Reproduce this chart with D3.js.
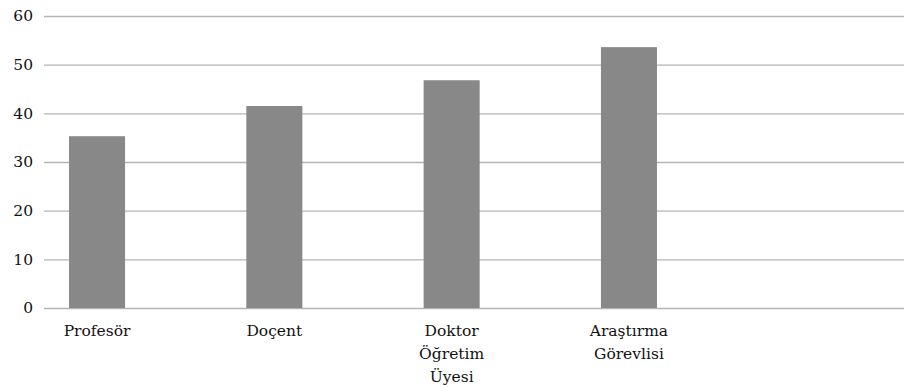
<!DOCTYPE html>
<html lang="tr">
<head>
<meta charset="utf-8">
<script src="https://cdn.jsdelivr.net/npm/d3@7"></script>
<style>
  html, body { margin: 0; padding: 0; background: #ffffff; }
  svg { display: block; }
</style>
</head>
<body>
<svg id="chart" width="905" height="388"></svg>
<script>
// Akademik unvanlara göre değerler
const categories = ["Profesör", "Doçent", "Doktor Öğretim Üyesi", "Araştırma Görevlisi"];
const values = [35.3, 41.5, 46.8, 53.6];
const yTicks = [0, 10, 20, 30, 40, 50, 60];

const FONT = "'DejaVu Serif', serif";
const FONT_SIZE = 15.5;
const plot = { left: 44, right: 904, top: 16, bottom: 308 };

const svg = d3.select("#chart");

const y = d3.scaleLinear().domain([0, 60]).range([plot.bottom, plot.top]);

// Category slots: bars sit centred in equal steps, narrow relative to the step
const x = d3.scaleBand()
  .domain(categories)
  .range([8.4, 717.6])
  .paddingInner(0.684)
  .paddingOuter(0.342);

// Horizontal gridlines (including the zero line) and value labels
const yAxis = d3.axisLeft(y)
  .tickValues(yTicks)
  .tickSize(-(plot.right - plot.left))
  .tickPadding(11)
  .tickFormat(d3.format("d"));

const gy = svg.append("g")
  .attr("transform", `translate(${plot.left},0)`)
  .call(yAxis)
  .attr("font-family", FONT)
  .attr("font-size", FONT_SIZE);
gy.select(".domain").remove();
gy.selectAll(".tick line")
  .attr("stroke", "#b4b4b4")
  .attr("stroke-width", 1.4);
gy.selectAll(".tick text")
  .attr("fill", "#111111");

// Bars
svg.append("g")
  .selectAll("rect")
  .data(values)
  .join("rect")
  .attr("x", (d, i) => x(categories[i]))
  .attr("width", x.bandwidth())
  .attr("y", d => y(d))
  .attr("height", d => y(0) - y(d))
  .attr("fill", "#888888");

// Category labels, wrapped word by word to a narrow width
const maxLabelWidth = 100;
const lineHeight = 23;
const labels = svg.append("g")
  .attr("font-family", FONT)
  .attr("font-size", FONT_SIZE)
  .selectAll("text")
  .data(categories)
  .join("text")
  .attr("fill", "#111111")
  .attr("text-anchor", "middle")
  .attr("x", d => x(d) + x.bandwidth() / 2)
  .attr("y", 336);

labels.each(function(d) {
  const t = d3.select(this);
  const cx = +t.attr("x");
  const words = d.split(" ");
  let line = [];
  let tspan = t.append("tspan").attr("x", cx).attr("dy", 0);
  words.forEach(w => {
    line.push(w);
    tspan.text(line.join(" "));
    if (tspan.node().getComputedTextLength() > maxLabelWidth && line.length > 1) {
      line.pop();
      tspan.text(line.join(" "));
      line = [w];
      tspan = t.append("tspan").attr("x", cx).attr("dy", lineHeight).text(w);
    }
  });
});
</script>
</body>
</html>
